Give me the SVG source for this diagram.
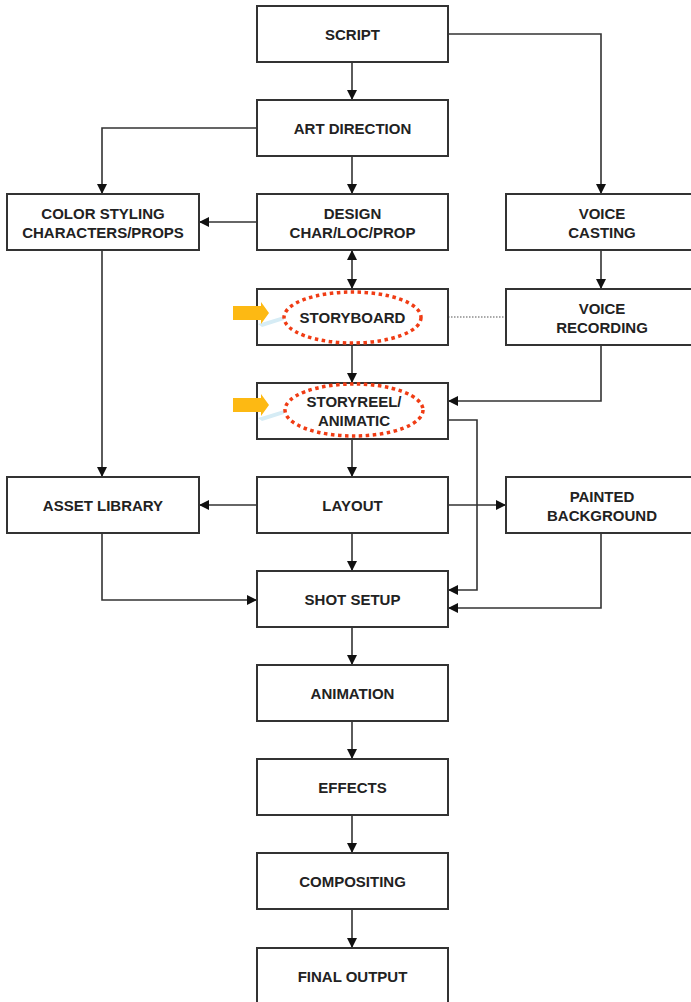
<svg xmlns="http://www.w3.org/2000/svg" width="691" height="1002" viewBox="0 0 691 1002">
<style>
.box{fill:#fff;stroke:#333;stroke-width:2}
.t{font-family:"Liberation Sans",Arial,sans-serif;font-weight:bold;font-size:15px;fill:#222;text-anchor:middle}
.c{fill:none;stroke:#333;stroke-width:1.6}
.ell{fill:none;stroke:#f03c14;stroke-width:3.5;stroke-dasharray:3.5 3.5}
</style>
<defs>
<marker id="ah" viewBox="0 0 10 10" refX="10" refY="5" markerWidth="10" markerHeight="10" markerUnits="userSpaceOnUse" orient="auto-start-reverse">
<path d="M0,0 L10,5 L0,10 z" fill="#111"/>
</marker>
</defs>
<rect width="691" height="1002" fill="#fff"/>
<g id="connectors">
<path class="c" d="M352,62 V100" marker-end="url(#ah)"/>
<path class="c" d="M448,34 H601 V194" marker-end="url(#ah)"/>
<path class="c" d="M257,128 H102 V194" marker-end="url(#ah)"/>
<path class="c" d="M352,156 V194" marker-end="url(#ah)"/>
<path class="c" d="M257,222 H199" marker-end="url(#ah)"/>
<path class="c" d="M352,250 V289" marker-start="url(#ah)" marker-end="url(#ah)"/>
<path class="c" d="M601,250 V289" marker-end="url(#ah)"/>
<path d="M448,317 H506" fill="none" stroke="#555" stroke-width="1.2" stroke-dasharray="1.5 1.5"/>
<path class="c" d="M352,345 V383" marker-end="url(#ah)"/>
<path class="c" d="M601,345 V401 H448" marker-end="url(#ah)"/>
<path class="c" d="M448,420 H477 V590 H448" marker-end="url(#ah)"/>
<path class="c" d="M352,439 V477" marker-end="url(#ah)"/>
<path class="c" d="M102,250 V477" marker-end="url(#ah)"/>
<path class="c" d="M257,505 H199" marker-end="url(#ah)"/>
<path class="c" d="M448,505 H506" marker-end="url(#ah)"/>
<path class="c" d="M352,533 V571" marker-end="url(#ah)"/>
<path class="c" d="M102,533 V600 H257" marker-end="url(#ah)"/>
<path class="c" d="M601,533 V608 H448" marker-end="url(#ah)"/>
<path class="c" d="M352,627 V665" marker-end="url(#ah)"/>
<path class="c" d="M352,721 V759" marker-end="url(#ah)"/>
<path class="c" d="M352,815 V853" marker-end="url(#ah)"/>
<path class="c" d="M352,909 V948" marker-end="url(#ah)"/>
</g>
<g id="script"><rect class="box" x="257" y="6" width="191" height="56"/><text class="t" x="352.5" y="39.5">SCRIPT</text></g>
<g id="art-direction"><rect class="box" x="257" y="100" width="191" height="56"/><text class="t" x="352.5" y="133.5">ART DIRECTION</text></g>
<g id="design"><rect class="box" x="257" y="194" width="191" height="56"/><text class="t" x="352.5" y="218.5">DESIGN</text><text class="t" x="352.5" y="237.5">CHAR/LOC/PROP</text></g>
<g id="color-styling"><rect class="box" x="7" y="194" width="192" height="56"/><text class="t" x="103" y="218.5">COLOR STYLING</text><text class="t" x="103" y="237.5">CHARACTERS/PROPS</text></g>
<g id="voice-casting"><rect class="box" x="506" y="194" width="190" height="56"/><text class="t" x="602" y="218.5">VOICE</text><text class="t" x="602" y="237.5">CASTING</text></g>
<g id="storyboard"><rect class="box" x="257" y="289" width="191" height="56"/>
<polygon points="258,324 284,316 284,320 262,327" fill="#d6ecf5"/>
<polygon points="233,306 261,306 261,302 269,313 261,324 261,320 233,320" fill="#fdb913"/>
<text class="t" x="352.5" y="322.5">STORYBOARD</text>
<ellipse class="ell" cx="352.5" cy="317.5" rx="68.5" ry="25.5"/></g>
<g id="voice-recording"><rect class="box" x="506" y="289" width="190" height="56"/><text class="t" x="602" y="313.5">VOICE</text><text class="t" x="602" y="332.5">RECORDING</text></g>
<g id="storyreel"><rect class="box" x="257" y="383" width="191" height="56"/>
<polygon points="258,418 284,410 284,414 262,421" fill="#d6ecf5"/>
<polygon points="233,398 261,398 261,394 269,405 261,416 261,412 233,412" fill="#fdb913"/>
<text class="t" x="354" y="406.5">STORYREEL/</text><text class="t" x="354" y="425.5">ANIMATIC</text>
<ellipse class="ell" cx="354" cy="410" rx="69" ry="26"/></g>
<g id="asset-library"><rect class="box" x="7" y="477" width="192" height="56"/><text class="t" x="103" y="510.5">ASSET LIBRARY</text></g>
<g id="layout"><rect class="box" x="257" y="477" width="191" height="56"/><text class="t" x="352.5" y="510.5">LAYOUT</text></g>
<g id="painted-background"><rect class="box" x="506" y="477" width="190" height="56"/><text class="t" x="602" y="501.5">PAINTED</text><text class="t" x="602" y="520.5">BACKGROUND</text></g>
<g id="shot-setup"><rect class="box" x="257" y="571" width="191" height="56"/><text class="t" x="352.5" y="604.5">SHOT SETUP</text></g>
<g id="animation"><rect class="box" x="257" y="665" width="191" height="56"/><text class="t" x="352.5" y="698.5">ANIMATION</text></g>
<g id="effects"><rect class="box" x="257" y="759" width="191" height="56"/><text class="t" x="352.5" y="792.5">EFFECTS</text></g>
<g id="compositing"><rect class="box" x="257" y="853" width="191" height="56"/><text class="t" x="352.5" y="886.5">COMPOSITING</text></g>
<g id="final-output"><rect class="box" x="257" y="948" width="191" height="60"/><text class="t" x="352.5" y="981.5">FINAL OUTPUT</text></g>
</svg>
